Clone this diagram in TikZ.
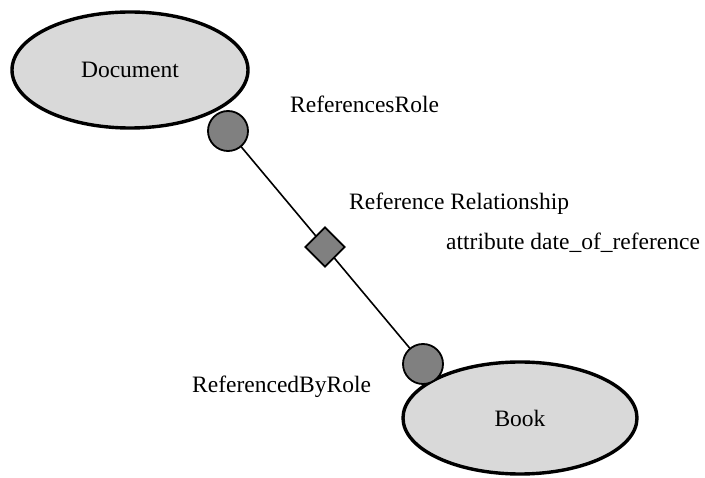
\documentclass[tikz,border=0pt]{standalone}
\usepackage{fontspec}
\setmainfont{Liberation Serif}
\usetikzlibrary{shapes.geometric}
\tikzset{
  txt/.style={font=\fontsize{23.5}{27}\selectfont},
  entity/.style={ellipse, draw=black, line width=3.4pt, fill=gray!30, inner sep=0pt, txt},
  role/.style={circle, draw=black, line width=1.8pt, fill=gray, minimum size=40pt, inner sep=0pt},
  relation/.style={diamond, draw=black, line width=1.8pt, fill=gray, minimum size=40pt, inner sep=0pt},
  label/.style={txt, anchor=west, inner sep=0pt},
}
\begin{document}
\begin{tikzpicture}[x=1pt, y=-1pt]
  \useasboundingbox (0,0) rectangle (705,478);
  % connector between the two roles
  \coordinate (rt) at (228,131);
  \coordinate (rb) at (423,364);
  \draw[line width=1.6pt] (rt) -- (rb);
  % entities
  \node[entity, minimum width=236pt, minimum height=116pt] (doc) at (130,70) {Document};
  \node[entity, minimum width=234pt, minimum height=112pt] (book) at (520,418) {Book};
  % roles and relationship
  \node[role] (refrole) at (rt) {};
  \node[role] (byrole) at (rb) {};
  \node[relation] (rel) at (325,247) {};
  % labels
  \node[label] (t1) at (290,104) {ReferencesRole};
  \node[label] (t2) at (349,204) {Reference Relationship};
  \node[label] (t3) at (446,243) {attribute date\_of\_reference};
  \node[label] (t4) at (192,387) {ReferencedByRole};
\end{tikzpicture}
\end{document}
